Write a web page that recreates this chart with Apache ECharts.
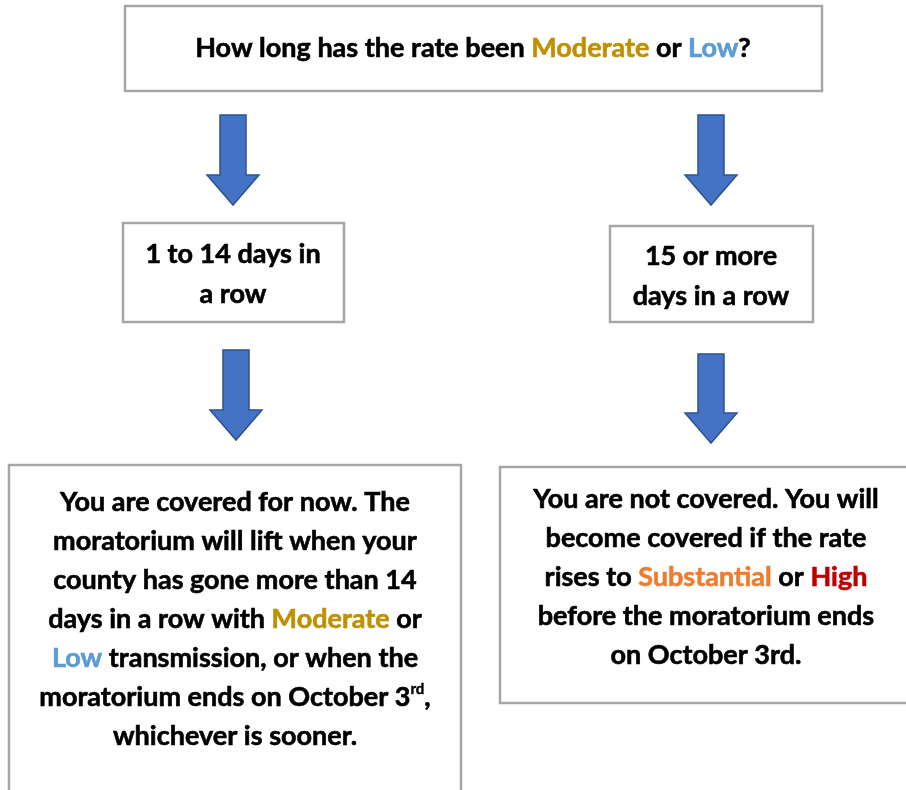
<!DOCTYPE html>
<html>
<head>
<meta charset="utf-8">
<script src="https://cdn.jsdelivr.net/npm/echarts@6/dist/echarts.min.js"></script>
<style>
html, body { margin: 0; padding: 0; background: #fff; }
#chart { width: 906px; height: 790px; }
</style>
</head>
<body>
<div id="chart"></div>
<script>
// texts of the flow chart, {tag|...} marks coloured words
let questionText = 'How long has the rate been {mod|Moderate} or {low|Low}?'
let shortLeft = ['1 to 14 days in', 'a row']
let shortRight = ['15 or more', 'days in a row']
let resultLeft = [
    'You are covered for now. The',
    'moratorium will lift when your',
    'county has gone more than 14',
    'days in a row with {mod|Moderate} or',
    '{low|Low} transmission, or when the',
    'moratorium ends on October 3{sup|rd},',
    'whichever is sooner.'
]
let resultRight = [
    'You are not covered. You will',
    'become covered if the rate',
    'rises to {sub|Substantial} or {high|High}',
    'before the moratorium ends',
    'on October 3rd.'
]

const FONT = 'Lato, "Open Sans", sans-serif'
const SIZE = 27
const LH = 39

// a coloured word, a thin stroke of the same colour makes it a bit heavier
function word(colour) {
    return {
        fill: colour, stroke: colour, lineWidth: 0.6,
        fontFamily: FONT, fontWeight: 'bold', fontSize: SIZE, lineHeight: LH
    }
}
let rich = {
    mod: word('#BF9000'),
    low: word('#5B9BD5'),
    sub: word('#ED7D31'),
    high: word('#C00000'),
    sup: {
        fill: '#000', stroke: '#000', lineWidth: 0.4,
        fontFamily: FONT, fontWeight: 'bold', fontSize: 15, lineHeight: LH, padding: [0, 0, 16, 0]
    }
}

function box(x, y, w, h) {
    return {
        type: 'rect',
        shape: { x: x, y: y, width: w, height: h },
        style: { fill: '#fff', stroke: '#A6A6A6', lineWidth: 2.5 }
    }
}

function label(cx, cy, lines, lh) {
    return {
        type: 'text',
        x: cx, y: cy,
        style: {
            text: lines.join('\n'),
            fill: '#000',
            stroke: '#000',
            lineWidth: 0.6,
            font: 'bold ' + SIZE + 'px ' + FONT,
            lineHeight: lh || LH,
            align: 'center',
            verticalAlign: 'middle',
            rich: rich
        }
    }
}

// arrow pointing down, cx = centre, top/bottom in px
function arrow(cx, top, bottom) {
    let sw = 13, hw = 26, hh = 30
    return {
        type: 'polygon',
        shape: {
            points: [
                [cx - sw, top], [cx + sw, top], [cx + sw, bottom - hh],
                [cx + hw, bottom - hh], [cx, bottom], [cx - hw, bottom - hh],
                [cx - sw, bottom - hh]
            ]
        },
        style: { fill: '#4472C4', stroke: '#2F528F', lineWidth: 1.5 }
    }
}

let chart = echarts.init(document.getElementById('chart'), null, { renderer: 'canvas' })
let option = {
    backgroundColor: '#fff',
    animation: false,
    graphic: {
        elements: [
            box(125, 6, 697, 85),
            label(473, 48, [questionText]),
            arrow(233, 115, 205),
            arrow(711, 115, 205),
            box(123, 223, 221, 99),
            label(233, 274, shortLeft, 40),
            box(610, 226, 203, 96),
            label(711, 276, shortRight, 40),
            arrow(236, 350, 440),
            arrow(711, 354, 443),
            box(9, 465, 452, 340),
            label(235, 619, resultLeft),
            box(500, 467, 420, 236),
            label(706, 577, resultRight)
        ]
    }
}
chart.setOption(option)
window.addEventListener('resize', () => {
    chart.resize()
})
</script>
</body>
</html>
